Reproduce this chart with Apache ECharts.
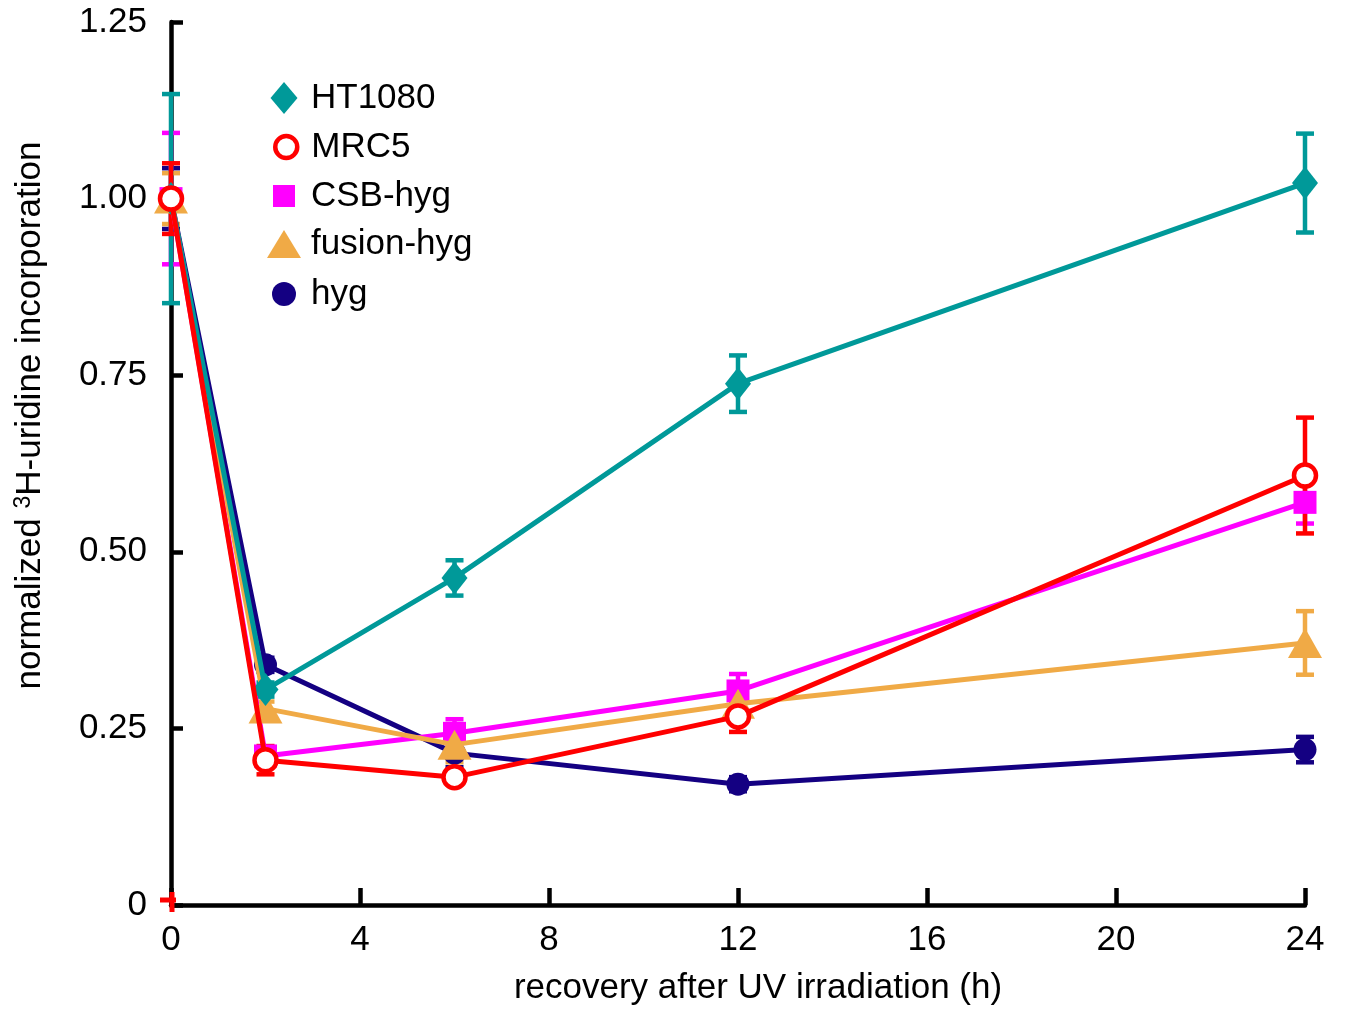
<!DOCTYPE html>
<html>
<head>
<meta charset="utf-8">
<script src="https://cdn.jsdelivr.net/npm/echarts@6/dist/echarts.min.js"></script>
<style>
html,body{margin:0;padding:0;background:#fff;}
#chart{width:1347px;height:1013px;}
</style>
</head>
<body>
<div id="chart"></div>
<script>
// ---- data ----
var hours = [0, 2, 6, 12, 24];
var seriesNames = ['HT1080', 'MRC5', 'CSB-hyg', 'fusion-hyg', 'hyg'];
var ht1080 = [1.00, 0.305, 0.463, 0.738, 1.022];
var ht1080Err = [0.148, 0.010, 0.025, 0.040, 0.070];
var mrc5 = [1.00, 0.205, 0.181, 0.267, 0.608];
var mrc5Err = [0.050, 0.020, 0.010, 0.022, 0.082];
var csbHyg = [1.00, 0.211, 0.243, 0.303, 0.570];
var csbHygErr = [0.093, 0.010, 0.020, 0.024, 0.030];
var fusionHyg = [1.00, 0.278, 0.227, 0.285, 0.371];
var fusionHygErr = [0.036, 0.010, 0.025, 0.020, 0.045];
var hyg = [1.00, 0.340, 0.215, 0.171, 0.220];
var hygErr = [0.043, 0.010, 0.020, 0.010, 0.018];
var originMark = [[0, 0]];
var xTicks = [0, 4, 8, 12, 16, 20, 24];
var yTicks = [0, 0.25, 0.5, 0.75, 1.0, 1.25];

var FONT = '"Liberation Sans", Arial, sans-serif';
var FS = 35;
var colors = {
  'HT1080': '#009999',
  'MRC5': '#ff0000',
  'CSB-hyg': '#ff00ff',
  'fusion-hyg': '#f0aa46',
  'hyg': '#140082'
};

function pts(vals) { return hours.map(function (h, i) { return [h, vals[i]]; }); }
function errs(vals, e) { return hours.map(function (h, i) { return [h, vals[i] - e[i], vals[i] + e[i]]; }); }

function errSeries(name, vals, e, z) {
  var c = colors[name];
  return {
    type: 'custom',
    name: name + '-err',
    z: z,
    clip: false,
    silent: true,
    data: errs(vals, e),
    renderItem: function (params, api) {
      var x = api.value(0);
      var lo = api.coord([x, api.value(1)]);
      var hi = api.coord([x, api.value(2)]);
      var hw = 9;
      var st = { stroke: c, lineWidth: 4.5 };
      return {
        type: 'group',
        children: [
          { type: 'line', shape: { x1: lo[0], y1: lo[1], x2: hi[0], y2: hi[1] }, style: st },
          { type: 'line', shape: { x1: lo[0] - hw, y1: lo[1], x2: lo[0] + hw, y2: lo[1] }, style: st },
          { type: 'line', shape: { x1: hi[0] - hw, y1: hi[1], x2: hi[0] + hw, y2: hi[1] }, style: st }
        ]
      };
    }
  };
}

function lineSeries(name, vals, symbol, size, z, itemStyle) {
  return {
    type: 'line',
    name: name,
    z: z,
    clip: false,
    data: pts(vals),
    symbol: symbol,
    symbolSize: size,
    showAllSymbol: true,
    lineStyle: { color: colors[name], width: 5 },
    itemStyle: itemStyle || { color: colors[name] },
    emphasis: { disabled: true },
    animation: false
  };
}

// legend layout (one legend component per entry so each icon can have its own size)
var legendSpec = [
  { name: 'HT1080', icon: 'path://M13.5,0L27,16L13.5,32L0,16Z', w: 27, h: 32, cy: 98 },
  { name: 'MRC5', icon: 'circle', w: 22, h: 22, cy: 147, border: 4.5 },
  { name: 'CSB-hyg', icon: 'rect', w: 22, h: 22, cy: 196 },
  { name: 'fusion-hyg', icon: 'triangle', w: 34, h: 28, cy: 244 },
  { name: 'hyg', icon: 'circle', w: 24, h: 24, cy: 294 }
];
var legends = legendSpec.map(function (s) {
  var item = { name: s.name, icon: s.icon };
  if (s.border) item.itemStyle = { color: '#ffffff', borderColor: colors[s.name], borderWidth: s.border };
  return {
    orient: 'vertical',
    left: 284 - s.w / 2,
    top: s.cy - 18,
    itemWidth: s.w,
    itemHeight: s.h,
    selectedMode: false,
    padding: 0,
    textStyle: { fontFamily: FONT, fontSize: FS, color: '#000', lineHeight: 36,
      padding: [0, 0, 0, (s.border ? 20 : 22) - s.w / 2] },
    data: [item]
  };
});

var chart = echarts.init(document.getElementById('chart'), null, { renderer: 'canvas' });

var option = {
  backgroundColor: '#ffffff',
  animation: false,
  grid: { left: 171, right: 42, top: 22, bottom: 108, containLabel: false },
  legend: legends,
  xAxis: {
    type: 'value',
    min: 0, max: 24, interval: 4,
    name: 'recovery after UV irradiation (h)',
    nameLocation: 'middle',
    nameGap: 66,
    nameTextStyle: { fontFamily: FONT, fontSize: FS, color: '#000', padding: [0, 0, 0, 40] },
    axisLine: { show: true, lineStyle: { color: '#000', width: 4.5 } },
    axisTick: { show: true, inside: true, length: 17, lineStyle: { color: '#000', width: 4.5 } },
    axisLabel: { fontFamily: FONT, fontSize: FS, color: '#000', margin: 18,
      formatter: function (v) { return xTicks.indexOf(v) >= 0 ? String(v) : ''; } },
    splitLine: { show: false }
  },
  yAxis: {
    type: 'value',
    min: 0, max: 1.25, interval: 0.25,
    name: 'normalized {sup|3}H-uridine incorporation',
    nameLocation: 'middle',
    nameGap: 122,
    nameTextStyle: { fontFamily: FONT, fontSize: FS, color: '#000', padding: [0, 0, 0, 96],
      rich: { sup: { fontFamily: FONT, fontSize: 23, color: '#000', verticalAlign: 'top', padding: [0, 0, 14, 0] } } },
    axisLine: { show: true, lineStyle: { color: '#000', width: 4.5 } },
    axisTick: { show: true, inside: true, length: 12, lineStyle: { color: '#000', width: 4.5 } },
    axisLabel: { fontFamily: FONT, fontSize: FS, color: '#000', margin: 24, padding: [6, 0, 0, 0],
      formatter: function (v) { return v === 0 ? '0' : (yTicks.indexOf(v) >= 0 ? v.toFixed(2) : ''); } },
    splitLine: { show: false }
  },
  series: [
    errSeries('hyg', hyg, hygErr, 2),
    errSeries('CSB-hyg', csbHyg, csbHygErr, 2),
    errSeries('fusion-hyg', fusionHyg, fusionHygErr, 2),
    errSeries('HT1080', ht1080, ht1080Err, 2),
    errSeries('MRC5', mrc5, mrc5Err, 2),
    lineSeries('hyg', hyg, 'circle', 23, 3),
    lineSeries('CSB-hyg', csbHyg, 'rect', 23, 4),
    lineSeries('fusion-hyg', fusionHyg, 'triangle', [34, 30], 5),
    lineSeries('HT1080', ht1080, 'diamond', [26, 33], 6),
    lineSeries('MRC5', mrc5, 'circle', 22, 7, { color: '#ffffff', borderColor: colors['MRC5'], borderWidth: 4.5 }),
    {
      type: 'custom',
      name: 'origin',
      z: 20,
      clip: false,
      silent: true,
      data: originMark,
      renderItem: function (params, api) {
        var p = api.coord([api.value(0), api.value(1)]);
        var st = { stroke: '#ff0000', lineWidth: 5 };
        return {
          type: 'group',
          children: [
            { type: 'line', shape: { x1: p[0] - 11, y1: p[1] - 5, x2: p[0] + 5, y2: p[1] - 5 }, style: st },
            { type: 'line', shape: { x1: p[0] + 1, y1: p[1] - 13, x2: p[0] + 1, y2: p[1] + 7 }, style: st }
          ]
        };
      }
    }
  ]
};
chart.setOption(option);
</script>
</body>
</html>
